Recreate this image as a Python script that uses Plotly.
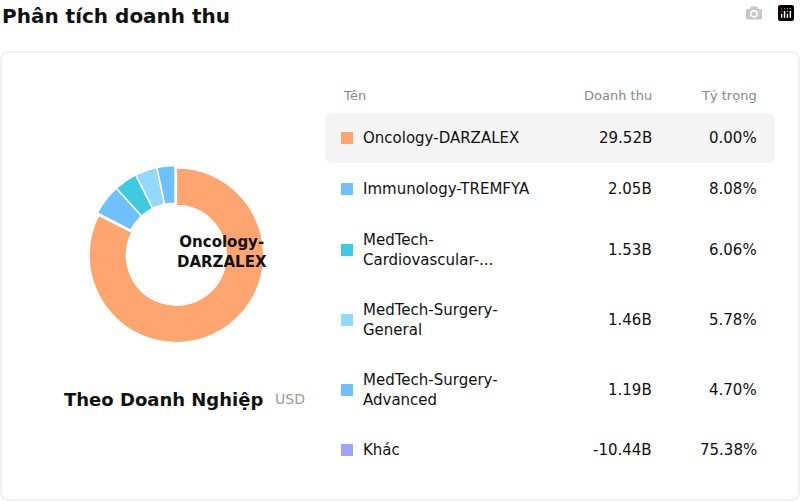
import plotly.graph_objects as go

names = ["Oncology-DARZALEX", "Immunology-TREMFYA", "MedTech-<br>Cardiovascular-...", "MedTech-Surgery-<br>General", "MedTech-Surgery-<br>Advanced", "Khác"]
pie_labels = ["Oncology-DARZALEX", "Immunology-TREMFYA", "MedTech-Cardiovascular", "MedTech-Surgery-General", "MedTech-Surgery-Advanced"]
revenue = [29.52, 2.05, 1.53, 1.46, 1.19]
rev_text = ["29.52B", "2.05B", "1.53B", "1.46B", "1.19B", "-10.44B"]
share_text = ["0.00%", "8.08%", "6.06%", "5.78%", "4.70%", "75.38%"]
colors = ["#FFA570", "#6EC1FB", "#3ECBE0", "#92D9FA", "#6EC1FB", "#A0A4F8"]

W, H = 800, 501
def px(x): return x / W
def py(y): return 1 - y / H

fig = go.Figure()
fig.add_trace(go.Pie(labels=pie_labels, values=revenue, hole=0.57, sort=False, direction="clockwise",
                     rotation=0, marker=dict(colors=colors[:5], line=dict(color="white", width=1.5)),
                     pull=[0.03, 0, 0, 0, 0], textinfo="none", hoverinfo="label+value",
                     domain=dict(x=[px(85), px(265)], y=[py(343), py(163)])))

shapes = [
    dict(type="path", xref="paper", yref="paper",
         path=f"M {px(9)},{py(52)} L {px(791)},{py(52)} Q {px(799)},{py(52)} {px(799)},{py(60)} L {px(799)},{py(492)} Q {px(799)},{py(500)} {px(791)},{py(500)} L {px(9)},{py(500)} Q {px(1)},{py(500)} {px(1)},{py(492)} L {px(1)},{py(60)} Q {px(1)},{py(52)} {px(9)},{py(52)} Z",
         line=dict(color="#E2E2EA", width=1), fillcolor="white", layer="below"),
    dict(type="path", xref="paper", yref="paper",
         path=f"M {px(333)},{py(113)} L {px(767)},{py(113)} Q {px(775)},{py(113)} {px(775)},{py(121)} L {px(775)},{py(155)} Q {px(775)},{py(163)} {px(767)},{py(163)} L {px(333)},{py(163)} Q {px(325)},{py(163)} {px(325)},{py(155)} L {px(325)},{py(121)} Q {px(325)},{py(113)} {px(333)},{py(113)} Z",
         line=dict(width=0), fillcolor="#F4F4F4", layer="below"),
]
ann = [
    dict(x=px(0), y=py(16), text="<b>Phân tích doanh thu</b>", xanchor="left", font=dict(size=20, color="#111")),
    dict(x=px(175), y=py(252), text="<b>Oncology-<br>DARZALEX</b>", font=dict(size=15, color="#111")),
    dict(x=px(265), y=py(399), text="<b>Theo Doanh Nghiệp</b>", xanchor="right", font=dict(size=18, color="#111")),
    dict(x=px(273), y=py(399), text="USD", xanchor="left", font=dict(size=14, color="#999")),
    dict(x=px(341), y=py(95), text="Tên", xanchor="left", font=dict(size=13, color="#888")),
    dict(x=px(654), y=py(95), text="Doanh thu", xanchor="right", font=dict(size=13, color="#888")),
    dict(x=px(759), y=py(95), text="Tỷ trọng", xanchor="right", font=dict(size=13, color="#888")),
]
rows_y = [138, 189, 250, 320, 390, 450]
for i, yy in enumerate(rows_y):
    shapes.append(dict(type="rect", xref="paper", yref="paper", x0=px(341), x1=px(353), y0=py(yy - 6), y1=py(yy + 6),
                       fillcolor=colors[i], line=dict(width=0)))
    ann.append(dict(x=px(361), y=py(yy), text=names[i], xanchor="left", align="left", font=dict(size=15, color="#111")))
    ann.append(dict(x=px(654), y=py(yy), text=rev_text[i], xanchor="right", font=dict(size=15, color="#111")))
    ann.append(dict(x=px(759), y=py(yy), text=share_text[i], xanchor="right", font=dict(size=15, color="#111")))
for a in ann:
    a.update(xref="paper", yref="paper", showarrow=False, yanchor="middle")
    a["font"]["family"] = "DejaVu Sans"

fig.update_layout(width=W, height=H, margin=dict(l=0, r=0, t=0, b=0), showlegend=False,
                  paper_bgcolor="white", plot_bgcolor="white", shapes=shapes, annotations=ann,
                  font=dict(family="DejaVu Sans"))
fig.write_html("out.html", post_script="document.body.style.margin='0';document.body.style.overflow='hidden';")
